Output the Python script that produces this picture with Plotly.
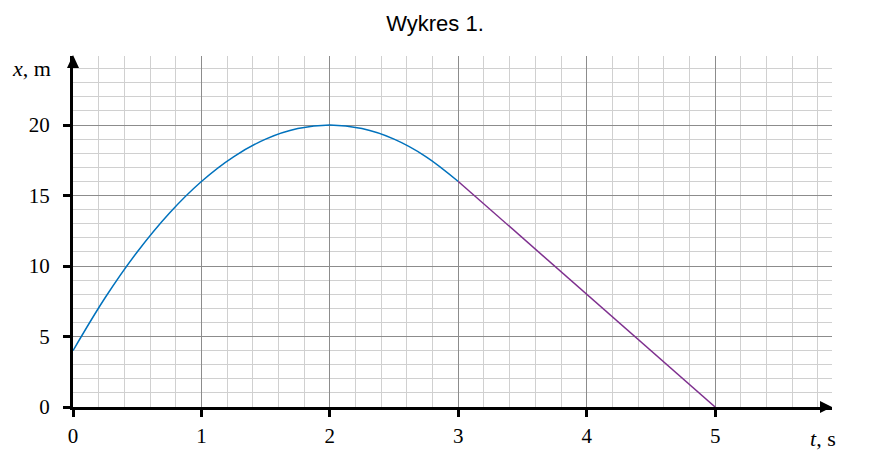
import plotly.graph_objects as go

# data
t_curve = [0, 0.25, 0.5, 0.75, 1, 1.25, 1.5, 1.75, 2, 2.25, 2.5, 2.75, 3]
x_curve = [4, 7.75, 11, 13.75, 16, 17.75, 19, 19.75, 20, 19.75, 19, 17.75, 16]
t_line = [3, 5]
x_line = [16, 0]
x_ticks = [0, 1, 2, 3, 4, 5]
y_ticks = [0, 5, 10, 15, 20]

SERIF = "Liberation Serif"

fig = go.Figure()
fig.add_trace(go.Scatter(x=t_curve, y=x_curve, mode="lines",
                         line=dict(color="#0072BD", width=1.5, shape="spline"),
                         hoverinfo="skip"))
fig.add_trace(go.Scatter(x=t_line, y=x_line, mode="lines",
                         line=dict(color="#7E2F8E", width=1.5),
                         hoverinfo="skip"))

axis_common = dict(
    showline=True, linecolor="black", linewidth=3,
    ticks="outside", ticklen=7, tickwidth=3, tickcolor="black",
    showgrid=True, gridcolor="#8c8c8c", gridwidth=1,
    zeroline=False, automargin=False,
    tickfont=dict(family=SERIF, size=21, color="black"),
)

fig.update_layout(
    width=892, height=461,
    margin=dict(l=65, r=68, t=48, b=62, autoexpand=False),
    paper_bgcolor="white", plot_bgcolor="white",
    showlegend=False,
    title=dict(text="Wykres 1.", x=427 / 892, xanchor="center", y=1 - 15 / 461, yanchor="middle",
               automargin=False,
               font=dict(family="Liberation Sans", size=22, color="black")),
    xaxis=dict(range=[0, 5.91], tickvals=x_ticks,
               minor=dict(dtick=0.2, tick0=0, showgrid=True, gridcolor="#d0d0d0", gridwidth=1, ticks=""),
               ticklabelstandoff=1, **axis_common),
    yaxis=dict(range=[0, 24.9], tickvals=y_ticks,
               minor=dict(dtick=1, tick0=0, showgrid=True, gridcolor="#d0d0d0", gridwidth=1, ticks=""),
               ticklabelstandoff=9, **axis_common),
    shapes=[
        dict(type="path", xref="paper", yref="paper", xsizemode="pixel", ysizemode="pixel",
             xanchor=0, yanchor=1, path="M -6,-12 L 6,-12 L 0,1 Z",
             fillcolor="black", line=dict(color="black", width=0)),
        dict(type="path", xref="paper", yref="paper", xsizemode="pixel", ysizemode="pixel",
             xanchor=1, yanchor=0, path="M -12,-6 L -12,6 L 0,0 Z",
             fillcolor="black", line=dict(color="black", width=0)),
    ],
    annotations=[
        dict(text="<i>x</i>, m", xref="paper", yref="paper", x=-0.026, y=0.963,
             xanchor="right", yanchor="middle", showarrow=False,
             font=dict(family=SERIF, size=22, color="black")),
        dict(text="<i>t</i>, s", xref="paper", yref="paper", x=(823 - 73) / 759, y=-0.09,
             xanchor="center", yanchor="middle", showarrow=False,
             font=dict(family=SERIF, size=22, color="black")),
    ],
)

fig.write_html("out.html")
